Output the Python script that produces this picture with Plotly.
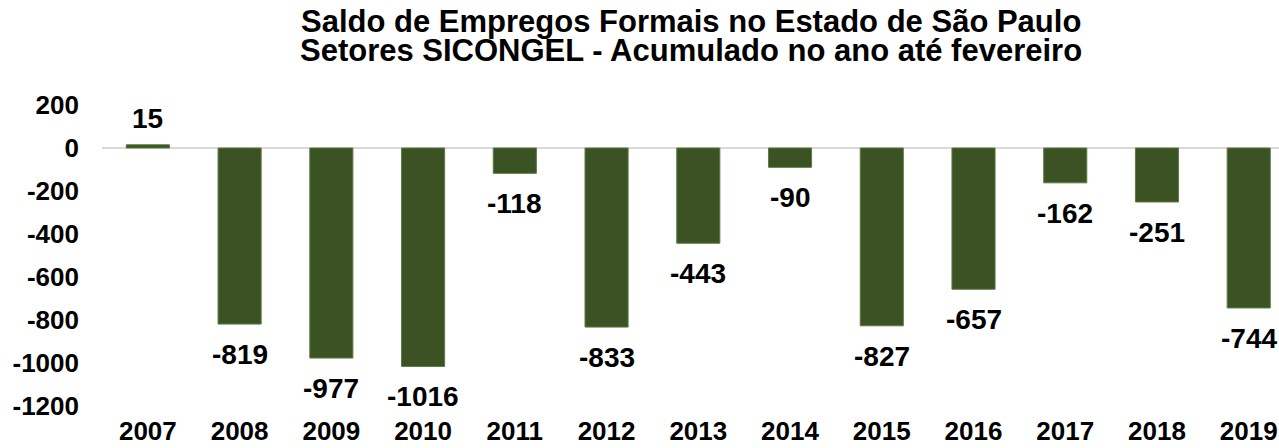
import plotly.graph_objects as go

years = ["2007", "2008", "2009", "2010", "2011", "2012", "2013", "2014", "2015", "2016", "2017", "2018", "2019"]
saldo = [15, -819, -977, -1016, -118, -833, -443, -90, -827, -657, -162, -251, -744]
y_ticks = [200, 0, -200, -400, -600, -800, -1000, -1200]
title_lines = ["Saldo de Empregos Formais no Estado de São Paulo",
               "Setores SICONGEL - Acumulado no ano até fevereiro"]

FONT = "Liberation Sans, Arial, sans-serif"
GREEN = "#3B5323"

fig = go.Figure()
fig.add_trace(go.Bar(
    x=list(range(len(years))), y=saldo,
    marker=dict(color=GREEN, line=dict(color="#5E7A45", width=1)),
    width=0.47,
    showlegend=False,
))

annotations = []
for i, v in enumerate(saldo):
    annotations.append(dict(
        x=i, y=v, xref="x", yref="y", text="<b>%d</b>" % v, showarrow=False,
        yanchor="bottom" if v >= 0 else "top",
        yshift=9 if v >= 0 else -13,
        font=dict(family=FONT, size=28, color="#000000"),
    ))
for j, line in enumerate(title_lines):
    annotations.append(dict(
        x=0.5, y=1, xref="paper", yref="paper", xanchor="center", yanchor="middle",
        yshift=84 - 29 * j, text="<b>%s</b>" % line, showarrow=False,
        font=dict(family=FONT, size=31, color="#000000"),
    ))

fig.update_layout(
    width=1279, height=448,
    margin=dict(l=102, r=0, t=105, b=42, autoexpand=False),
    paper_bgcolor="white", plot_bgcolor="white",
    annotations=annotations,
    xaxis=dict(
        range=[-0.5, 12.33],
        tickvals=list(range(len(years))),
        ticktext=["<b>%s</b>" % y for y in years],
        showgrid=False, showline=False, zeroline=False, ticks="",
        tickfont=dict(family=FONT, size=26, color="#000000"),
        ticklabelstandoff=7, ticklabeloverflow="allow", automargin=False,
    ),
    yaxis=dict(
        range=[-1200, 200], tickvals=y_ticks,
        ticktext=["<b>%d</b>" % t for t in y_ticks],
        showgrid=False, showline=False,
        zeroline=True, zerolinecolor="#D9D9D9", zerolinewidth=2,
        tickfont=dict(family=FONT, size=26, color="#000000"),
        ticks="", ticklabelstandoff=22, automargin=False,
    ),
)
fig.write_html("out.html", config={"displayModeBar": False},
               post_script="document.body.style.margin='0px';")
